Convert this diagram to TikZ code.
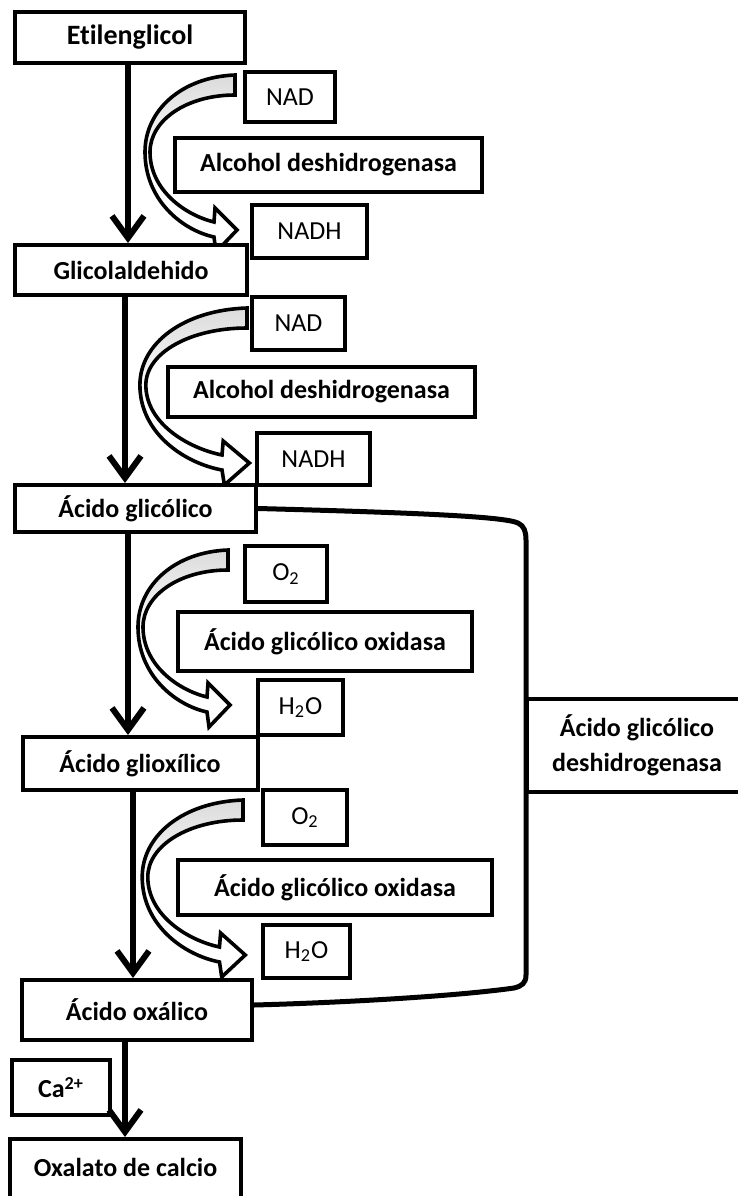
\documentclass[tikz,border=0pt]{standalone}
\usepackage{fontspec}
\setmainfont{Carlito}[Ligatures=NoCommon]
\usetikzlibrary{arrows.meta,positioning,calc}

\tikzset{
  caja/.style={draw, line width=2pt, fill=white, inner sep=0pt,
               font=\fontsize{13}{17.5}\selectfont\bfseries},
  cofac/.style={caja, font=\fontsize{13}{17.5}\selectfont\mdseries},
  flecha/.style={line width=3pt, -{Straight Barb[length=11pt,width=16pt]}},
  llave/.style={line width=2.5pt, line cap=round},
  curva/.pic={
    \draw[line width=1.8pt, top color=gray!28, bottom color=white, middle color=white]
      (0,0) .. controls (-53,2) and (-90,35) .. (-90,77)
      .. controls (-90,125) and (-53,155) .. (-21,162)
      -- (-19,177) -- (2,155) -- (-20,133) -- (-21,147)
      .. controls (-50,140) and (-85,115) .. (-85,77)
      .. controls (-85,45) and (-48,20) .. (0,20) -- cycle;
  }
}

\begin{document}
\begin{tikzpicture}[x=0.5pt, y=-0.5pt]
  \useasboundingbox (0,0) rectangle (738,1196);

  % Curved cofactor arrows
  \pic at (235,75) {curva};
  \pic[xscale=1.19] at (247,308) {curva};
  \pic at (228,550) {curva};
  \pic[xscale=1.12] at (243,800) {curva};

  % Main chain
  \node[caja, minimum width=115pt, minimum height=25.5pt,
        font=\fontsize{14}{17.5}\selectfont\bfseries] (etil) at (130,37.5) {Etilenglicol};
  \node[caja, minimum width=116pt, minimum height=25pt] (glic) at (131,270) {Glicolaldehido};
  \node[caja, minimum width=120.5pt, minimum height=23.5pt] (acgl) at (135.5,508.5) {Ácido glicólico};
  \node[caja, minimum width=117.5pt, minimum height=26.5pt] (glio) at (140,763.5) {Ácido glioxílico};
  \node[caja, minimum width=115pt, minimum height=30pt] (oxal) at (137,1010) {Ácido oxálico};
  \node[caja, minimum width=115.5pt, minimum height=32pt] (oxca) at (125.5,1171) {};
  \node[font=\fontsize{13}{17.5}\selectfont\bfseries] (oxcat) at (125.5,1167) {Oxalato de calcio};

  % Cofactors and enzymes
  \node[cofac, minimum width=45pt, minimum height=25pt] (nad1) at (290,97) {NAD};
  \node[caja, minimum width=153.5pt, minimum height=27pt] (alc1) at (328.5,165) {Alcohol deshidrogenasa};
  \node[cofac, minimum width=57.5pt, minimum height=26.5pt] (nadh1) at (309.5,231.5) {NADH};

  \node[cofac, minimum width=46.5pt, minimum height=26.5pt] (nad2) at (298.5,323.5) {NAD};
  \node[caja, minimum width=153.5pt, minimum height=25pt] (alc2) at (321.5,392) {Alcohol deshidrogenasa};
  \node[cofac, minimum width=56.5pt, minimum height=26pt] (nadh2) at (313.5,459) {NADH};

  \node[cofac, minimum width=41pt, minimum height=28pt] (oa) at (286,574) {O\textsubscript{2}};
  \node[caja, minimum width=147pt, minimum height=29.5pt] (oxi1) at (325,641.5) {Ácido glicólico oxidasa};
  \node[cofac, minimum width=42.5pt, minimum height=27.5pt] (ha) at (300.5,707.5) {H\textsubscript{2}O};

  \node[cofac, minimum width=42pt, minimum height=27.5pt] (ob) at (305,817.5) {O\textsubscript{2}};
  \node[caja, minimum width=157pt, minimum height=27.5pt] (oxi2) at (335,887.5) {Ácido glicólico oxidasa};
  \node[cofac, minimum width=43.5pt, minimum height=26.5pt] (hb) at (306.5,951.5) {H\textsubscript{2}O};

  \node[caja, minimum width=49pt, minimum height=27.5pt] (ca) at (61,1087.5) {Ca\textsuperscript{2+}};

  \node[caja, minimum width=110pt, minimum height=46.5pt, align=center] (desh) at (637,745.5)
    {Ácido glicólico\\deshidrogenasa};

  % Main arrows
  \draw[flecha] ([xshift=-1pt]etil.south) -- ([xshift=-1pt]etil.south |- glic.north);
  \draw[flecha] ([xshift=-3pt]glic.south) -- ([xshift=-3pt]glic.south |- acgl.north);
  \draw[flecha] ([xshift=-3.75pt]acgl.south) -- ([xshift=-3.75pt]acgl.south |- glio.north);
  \draw[flecha] ([xshift=-3.5pt]glio.south) -- ([xshift=-3.5pt]glio.south |- oxal.north);
  \draw[flecha] ([xshift=-6pt]oxal.south) -- ([xshift=-6pt]oxal.south |- oxca.north);

  % Bracket to the dehydrogenase
  \draw[llave] (acgl.east) .. controls (430,513) and (505,517) .. (518,523)
    .. controls (524,526) and (526,531) .. (526,540) -- (526,975)
    .. controls (526,983) and (522,986) .. (514,988)
    .. controls (450,997) and (330,1003) .. ([yshift=2.5pt]oxal.east);
\end{tikzpicture}
\end{document}
